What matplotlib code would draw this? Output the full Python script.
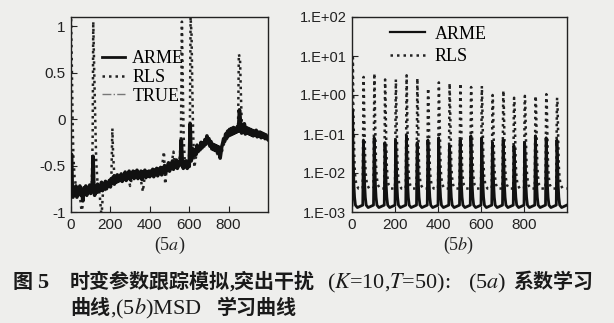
import matplotlib
matplotlib.use('Agg')
import matplotlib.pyplot as plt
from matplotlib.ticker import FixedLocator, FixedFormatter, NullLocator

plt.rcParams['mathtext.fontset'] = 'stix'
plt.rcParams['axes.unicode_minus'] = False

# (5a) coefficient learning curve, impulsive disturbances
true_x = [0, 50, 100, 150, 200, 250, 300, 350, 400, 450, 500, 550, 600,
          620, 650, 690, 720, 760, 800, 850, 900, 950, 1000]
true_y = [-0.78, -0.77, -0.76, -0.72, -0.68, -0.64, -0.61, -0.60, -0.60,
          -0.57, -0.52, -0.49, -0.48, -0.36, -0.30, -0.21, -0.28, -0.33,
          -0.15, -0.12, -0.13, -0.17, -0.22]

arme_a_x = [0, 3, 6, 10, 15, 20, 25, 30, 35, 40,
            45, 50, 55, 60, 65, 70, 75, 80, 85, 90,
            95, 100, 104, 108, 112, 116, 120, 125, 130, 135,
            140, 145, 150, 155, 160, 165, 170, 175, 180, 185,
            190, 195, 200, 205, 210, 215, 220, 225, 230, 235,
            240, 245, 250, 255, 260, 265, 270, 275, 280, 285,
            290, 295, 300, 305, 310, 315, 320, 325, 330, 335,
            340, 345, 350, 355, 360, 365, 370, 375, 380, 385,
            390, 395, 400, 405, 410, 415, 420, 425, 430, 435,
            440, 445, 450, 455, 460, 465, 470, 475, 480, 485,
            490, 495, 500, 505, 510, 515, 520, 525, 530, 535,
            540, 545, 550, 555, 560, 565, 570, 575, 580, 585,
            590, 595, 600, 605, 610, 615, 620, 625, 630, 635,
            640, 645, 650, 655, 660, 665, 670, 675, 680, 685,
            690, 695, 700, 705, 710, 715, 720, 725, 730, 735,
            740, 745, 750, 757, 765, 770, 775, 780, 785, 790,
            795, 800, 805, 810, 815, 820, 825, 830, 835, 840,
            845, 850, 855, 860, 866, 870, 875, 880, 885, 890,
            895, 900, 905, 910, 915, 920, 925, 930, 935, 940,
            945, 950, 955, 960, 965, 970, 975, 980, 985, 990,
            995, 1000]
arme_a_y = [-0.45, -0.38, -0.70, -0.84, -0.74, -0.80, -0.72, -0.84, -0.76, -0.80,
            -0.72, -0.82, -0.78, -0.88, -0.74, -0.80, -0.72, -0.82, -0.75, -0.79,
            -0.71, -0.80, -0.74, -0.77, -0.40, -0.72, -0.82, -0.73, -0.79, -0.70,
            -0.78, -0.72, -0.76, -0.68, -0.77, -0.70, -0.74, -0.67, -0.75, -0.69,
            -0.72, -0.66, -0.73, -0.64, -0.69, -0.62, -0.70, -0.63, -0.68, -0.60,
            -0.67, -0.62, -0.66, -0.59, -0.67, -0.61, -0.64, -0.57, -0.66, -0.60,
            -0.63, -0.56, -0.65, -0.58, -0.62, -0.56, -0.64, -0.57, -0.62, -0.55,
            -0.64, -0.58, -0.61, -0.56, -0.65, -0.57, -0.60, -0.55, -0.63, -0.57,
            -0.61, -0.56, -0.62, -0.56, -0.60, -0.54, -0.62, -0.55, -0.59, -0.53,
            -0.61, -0.54, -0.58, -0.52, -0.60, -0.53, -0.57, -0.50, -0.58, -0.51,
            -0.55, -0.47, -0.56, -0.49, -0.53, -0.45, -0.54, -0.47, -0.51, -0.44,
            -0.53, -0.46, -0.50, -0.45, -0.22, -0.47, -0.53, -0.46, -0.51, -0.45,
            -0.53, -0.47, -0.51, -0.05, -0.45, -0.40, -0.32, -0.39, -0.33, -0.38,
            -0.28, -0.35, -0.30, -0.33, -0.25, -0.31, -0.26, -0.29, -0.22, -0.27,
            -0.18, -0.25, -0.21, -0.29, -0.24, -0.32, -0.27, -0.33, -0.28, -0.34,
            -0.29, -0.36, -0.30, -0.42, -0.30, -0.26, -0.21, -0.24, -0.16, -0.20,
            -0.13, -0.18, -0.11, -0.17, -0.10, -0.16, -0.09, -0.15, -0.10, -0.14,
            -0.08, -0.13, 0.10, -0.02, -0.15, -0.06, -0.14, -0.05, -0.16, -0.09,
            -0.15, -0.10, -0.16, -0.11, -0.17, -0.12, -0.18, -0.13, -0.17, -0.12,
            -0.19, -0.14, -0.18, -0.14, -0.20, -0.15, -0.19, -0.16, -0.21, -0.17,
            -0.21, -0.22]

rls_a_x = [0, 4, 8, 12, 18, 25, 35, 45, 55, 62, 75, 90, 105, 110, 113, 118,
           123, 128, 135, 145, 155, 162, 175, 195, 205, 210, 214, 220, 240,
           260, 290, 300, 310, 340, 355, 365, 375, 420, 460, 472, 478, 485,
           510, 520, 530, 550, 558, 563, 568, 572, 578, 595, 603, 607, 612,
           616, 620, 626, 635, 650, 690, 720, 757, 780, 820, 848, 852, 858,
           862, 866, 872, 900, 950, 1000]
rls_a_y = [1.15, 0.60, 0.00, -0.40, -0.62, -0.72, -0.78, -0.82, -1.02,
           -0.85, -0.78, -0.76, -0.78, -0.20, 1.05, 0.50, 0.00, -0.45, -0.70,
           -0.80, -1.05, -0.80, -0.75, -0.72, -0.62, -0.10, -0.40, -0.60,
           -0.66, -0.62, -0.62, -0.72, -0.62, -0.60, -0.66, -0.78, -0.60,
           -0.57, -0.55, -0.35, -0.70, -0.55, -0.50, -0.35, -0.52, -0.48,
           -0.20, 1.05, 0.30, -0.20, -0.48, -0.50, -0.30, 1.10, 0.90, 0.30,
           -0.15, -0.52, -0.40, -0.32, -0.22, -0.30, -0.42, -0.24, -0.14,
           -0.10, 0.70, 0.65, 0.30, 0.00, -0.14, -0.15, -0.17, -0.22]

# (5b) MSD learning curve, disturbance every T=50 samples
spike_n = [0, 50, 100, 150, 200, 250, 300, 350, 400, 450,
           500, 550, 600, 650, 700, 750, 800, 850, 900, 950]
arme_b_peak = [0.40, 0.07, 0.08, 0.06, 0.07, 0.09, 0.06, 0.07, 0.08, 0.05,
               0.07, 0.09, 0.08, 0.06, 0.07, 0.05, 0.06, 0.09, 0.08, 0.07]
rls_b_peak = [9.0, 2.9, 3.6, 2.5, 2.5, 3.2, 2.7, 1.5, 2.1, 2.0,
              2.0, 1.6, 1.7, 1.0, 1.3, 0.85, 0.95, 0.95, 1.05, 0.85]
# shape of one period: samples after the disturbance and values read there,
# the entry at *_pk is replaced by that period's peak
arme_b_off = [0, 1, 2, 3, 5, 7, 9, 12, 16, 25, 49]
arme_b_val = [0.0015, 0.006, 0.025, None, 0.035, 0.012, 0.005, 0.0024,
              0.0015, 0.0013, 0.0015]
arme_b_pk = 3
rls_b_off = [0, 1, 2, 3, 4, 6, 8, 10, 12, 15, 20, 30, 49]
rls_b_val = [0.004, 0.03, 0.15, 0.6, None, 0.6, 0.15, 0.04, 0.015, 0.008,
             0.005, 0.004, 0.004]
rls_b_pk = 4

msd_ticks = [1e-3, 1e-2, 1e-1, 1e0, 1e1, 1e2]
msd_labels = ['1.E-03', '1.E-02', '1.E-01', '1.E+00', '1.E+01', '1.E+02']


def build_msd(peaks, offsets, values, ipk):
    """join the read period shape and the per-period peaks into one curve"""
    xs, ys = [], []
    for n0, pk in zip(spike_n, peaks):
        for k, (dn, v) in enumerate(zip(offsets, values)):
            xs.append(n0 + dn)
            ys.append(pk if k == ipk else v)
    return xs, ys


W, H = 614, 323
bg = '#eeeeec'
fig = plt.figure(figsize=(W / 100, H / 100), dpi=100, facecolor=bg)


def fig_text(x, y, s, **kw):
    fig.text(x / W, 1 - y / H, s, **kw)


serif = ['Liberation Serif', 'Noto Sans CJK SC']
sans = 'Liberation Sans'
dots = (0, (1, 1.6))

# left panel
ax1 = fig.add_axes([71 / W, 1 - 212 / H, 197 / W, 195 / H], facecolor=bg)
ax1.plot(true_x, true_y, color='#777777', lw=1.0, ls='-.', label='TRUE',
         zorder=2)
ax1.plot(rls_a_x, rls_a_y, color='#222222', lw=1.8, ls=dots, label='RLS',
         zorder=3)
ax1.plot(arme_a_x, arme_a_y, color='#111111', lw=2.6, label='ARME', zorder=4)
ax1.set_xlim(0, 1000)
ax1.set_ylim(-1, 1.1)
ax1.xaxis.set_major_locator(FixedLocator([0, 200, 400, 600, 800]))
ax1.yaxis.set_major_locator(FixedLocator([-1, -0.5, 0, 0.5, 1]))
ax1.yaxis.set_major_formatter(FixedFormatter(['-1', '-0.5', '0', '0.5', '1']))
h, l = ax1.get_legend_handles_labels()
ax1.legend([h[2], h[1], h[0]], [l[2], l[1], l[0]], loc='upper left',
           bbox_to_anchor=(0.155, 0.83), frameon=False, borderpad=0,
           borderaxespad=0, handlelength=1.3, handletextpad=0.4,
           labelspacing=0.1, prop={'family': 'Liberation Serif', 'size': 13})
ax1.get_legend().get_lines()[0].set_linewidth(2.0)

# right panel
ax2 = fig.add_axes([352 / W, 1 - 212 / H, 215 / W, 195 / H], facecolor=bg)
bx, by = build_msd(rls_b_peak, rls_b_off, rls_b_val, rls_b_pk)
ax2.plot(bx, by, color='#222222', lw=1.8, ls=dots, label='RLS', zorder=3)
bx, by = build_msd(arme_b_peak, arme_b_off, arme_b_val, arme_b_pk)
ax2.plot(bx, by, color='#111111', lw=2.0, label='ARME', zorder=4)
ax2.set_yscale('log')
ax2.set_xlim(0, 1000)
ax2.set_ylim(1e-3, 1e2)
ax2.xaxis.set_major_locator(FixedLocator([0, 200, 400, 600, 800]))
ax2.yaxis.set_major_locator(FixedLocator(msd_ticks))
ax2.yaxis.set_major_formatter(FixedFormatter(msd_labels))
ax2.yaxis.set_minor_locator(NullLocator())
h, l = ax2.get_legend_handles_labels()
ax2.legend([h[1], h[0]], [l[1], l[0]], loc='upper left',
           bbox_to_anchor=(0.175, 0.955), frameon=False, borderpad=0,
           borderaxespad=0, handlelength=1.95, handletextpad=0.55,
           labelspacing=0.3, prop={'family': 'Liberation Serif', 'size': 13})
ax2.get_legend().get_lines()[0].set_linewidth(1.6)

for ax in (ax1, ax2):
    for sp in ax.spines.values():
        sp.set_linewidth(1.0)
        sp.set_color('#222222')
    ax.tick_params(direction='in', length=4, width=0.8, top=False,
                   right=False, colors='#222222', pad=4)
    for lab in ax.get_xticklabels() + ax.get_yticklabels():
        lab.set_family(sans)
        lab.set_fontsize(11)
        lab.set_color('#222222')
for lab in ax2.get_yticklabels():
    lab.set_fontsize(10.5)

# panel labels
fig_text(170, 250, r'(5$\mathit{a}$)', ha='center', family=serif, size=13,
         color='#222222')
fig_text(459, 250, r'(5$\mathit{b}$)', ha='center', family=serif, size=13,
         color='#222222')

# caption
cap = dict(family=serif, size=14.4, color='#1a1a1a', weight='bold')
lat = dict(family=serif, size=16, color='#1a1a1a')
fig_text(13, 288, '图', **cap)
fig_text(37, 288, '5', weight='bold', **lat)
fig_text(70, 288, '时变参数跟踪模拟', **cap)
fig_text(230, 288, ',突出干扰', **cap)
fig_text(327, 288, r'($\mathit{K}$=10,$\mathit{T}$=50):', **lat)
fig_text(468, 288, r'(5$\mathit{a}$)', **lat)
fig_text(513, 288, '系数学习', **cap)
fig_text(70, 314, '曲线', **cap)
fig_text(110, 314, r',(5$\mathit{b}$)MSD', **lat)
fig_text(217, 314, '学习曲线', **cap)

fig.savefig('out.png', dpi=100, facecolor=bg)
